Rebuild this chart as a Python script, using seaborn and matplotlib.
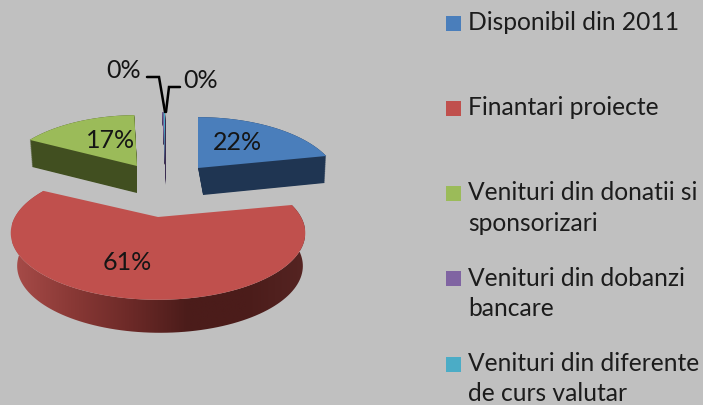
import numpy as np
import matplotlib
matplotlib.use('Agg')
import matplotlib.pyplot as plt
import matplotlib.patches as mpatches
from matplotlib.colors import LinearSegmentedColormap
import seaborn as sns

# data
categories = ['Disponibil din 2011', 'Finantari proiecte', 'Venituri din donatii si\nsponsorizari',
              'Venituri din dobanzi\nbancare', 'Venituri din diferente\nde curs valutar']
values = [21.8, 60.8, 17.0, 0.2, 0.2]

# styles
face_colors = ['#4a7ebb', '#c0504d', '#9bbb59', '#8064a2', '#4bacc6']
wall_colors = ['#1f3552', '#7a2e2c', '#414f20', '#3a2c50', '#3a2c50']

# wedge layout, in figure pixels
apex_x = [198, 158, 137, 165, 165]
apex_y = [168, 217, 166, 163, 163]
radius_x = [137, 143, 134, 136, 136]
radius_y = 63
persp = 0.239
depth = [27, 33, 27, 22, 22]
wall_shift = [5, 2, 0, 1, 1]
wall_scale = [0.95, 0.97, 0.98, 0.9, 0.9]
label_x = [237, 127, 111, 124, 201]
label_y = [142, 262, 140, 70, 80]

BG = '#c0c0c0'
sns.set_theme(style='white', rc={'figure.facecolor': BG, 'axes.facecolor': BG})
plt.rcParams['font.family'] = ['Lato', 'DejaVu Sans']


def arc_points(a1, a2, i, n=120):
    # arc of one wedge relative to its apex, back of the disc is squeezed
    t = np.radians(np.linspace(a1, a2, n))
    d = 1 + persp * np.sin(t)
    return radius_x[i] * np.cos(t) / d, radius_y * np.sin(t) / d


fig = plt.figure(figsize=(7.03, 4.05), dpi=100)
ax = fig.add_axes([0, 0, 1, 1])

# start at 12 o'clock and go clockwise
ends = 90 - np.cumsum(values) * 3.6
starts = np.r_[90, ends[:-1]]

for i in [3, 4, 2, 0, 1]:
    dx, dy = arc_points(starts[i], ends[i], i)
    top = np.c_[np.r_[0, dx] + apex_x[i], apex_y[i] - np.r_[0, dy]]
    bottom = np.c_[np.r_[0, dx] * wall_scale[i] + apex_x[i] + wall_shift[i],
                   apex_y[i] - np.r_[0, dy] + depth[i]]

    if i == 1:
        # the big slice has a shaded rim
        rim = np.r_[bottom[1:], top[:0:-1]]
        poly = mpatches.Polygon(rim, closed=True, fc='none', ec='none', transform=ax.transData)
        ax.add_patch(poly)
        cmap = LinearSegmentedColormap.from_list('rim', ['#a84c49', '#8a3936', '#6d2a28', '#4b1c1a', '#4b1c1a', '#552422'])
        im = ax.imshow(np.linspace(0, 1, 256)[None, :], cmap=cmap, aspect='auto',
                       extent=[12, 305, 340, 180], zorder=1)
        im.set_clip_path(poly)
    else:
        for t in np.linspace(1, 0, 40):
            ax.add_patch(mpatches.Polygon(top + (bottom - top) * t, closed=True,
                                          fc=wall_colors[i], ec='none', zorder=1))

    ax.add_patch(mpatches.Polygon(top, closed=True, fc=face_colors[i], ec='none', zorder=2))
    ax.text(label_x[i], label_y[i], f'{values[i]:.0f}%', fontsize=18, color='#151515',
            ha='center', va='center', zorder=4)

# leader lines for the two tiny slices
ax.plot([147, 159, 165], [77, 77, 112], color='black', lw=1.8, zorder=3, solid_joinstyle='miter')
ax.plot([180, 169, 166], [87, 87, 112], color='black', lw=1.8, zorder=3, solid_joinstyle='miter')

# legend, evenly spaced like the original
for i, name in enumerate(categories):
    y = 23 + i * 85.25
    ax.add_patch(mpatches.Rectangle((446, y - 7.5), 15, 15, fc=face_colors[i], ec='none'))
    ax.text(468, y - 12, name, fontsize=17.7, color='#1c1c1c', ha='left', va='top', linespacing=1.38)

ax.set_xlim(0, 703)
ax.set_ylim(405, 0)
ax.axis('off')

fig.savefig('out.png', dpi=100, facecolor=BG)
